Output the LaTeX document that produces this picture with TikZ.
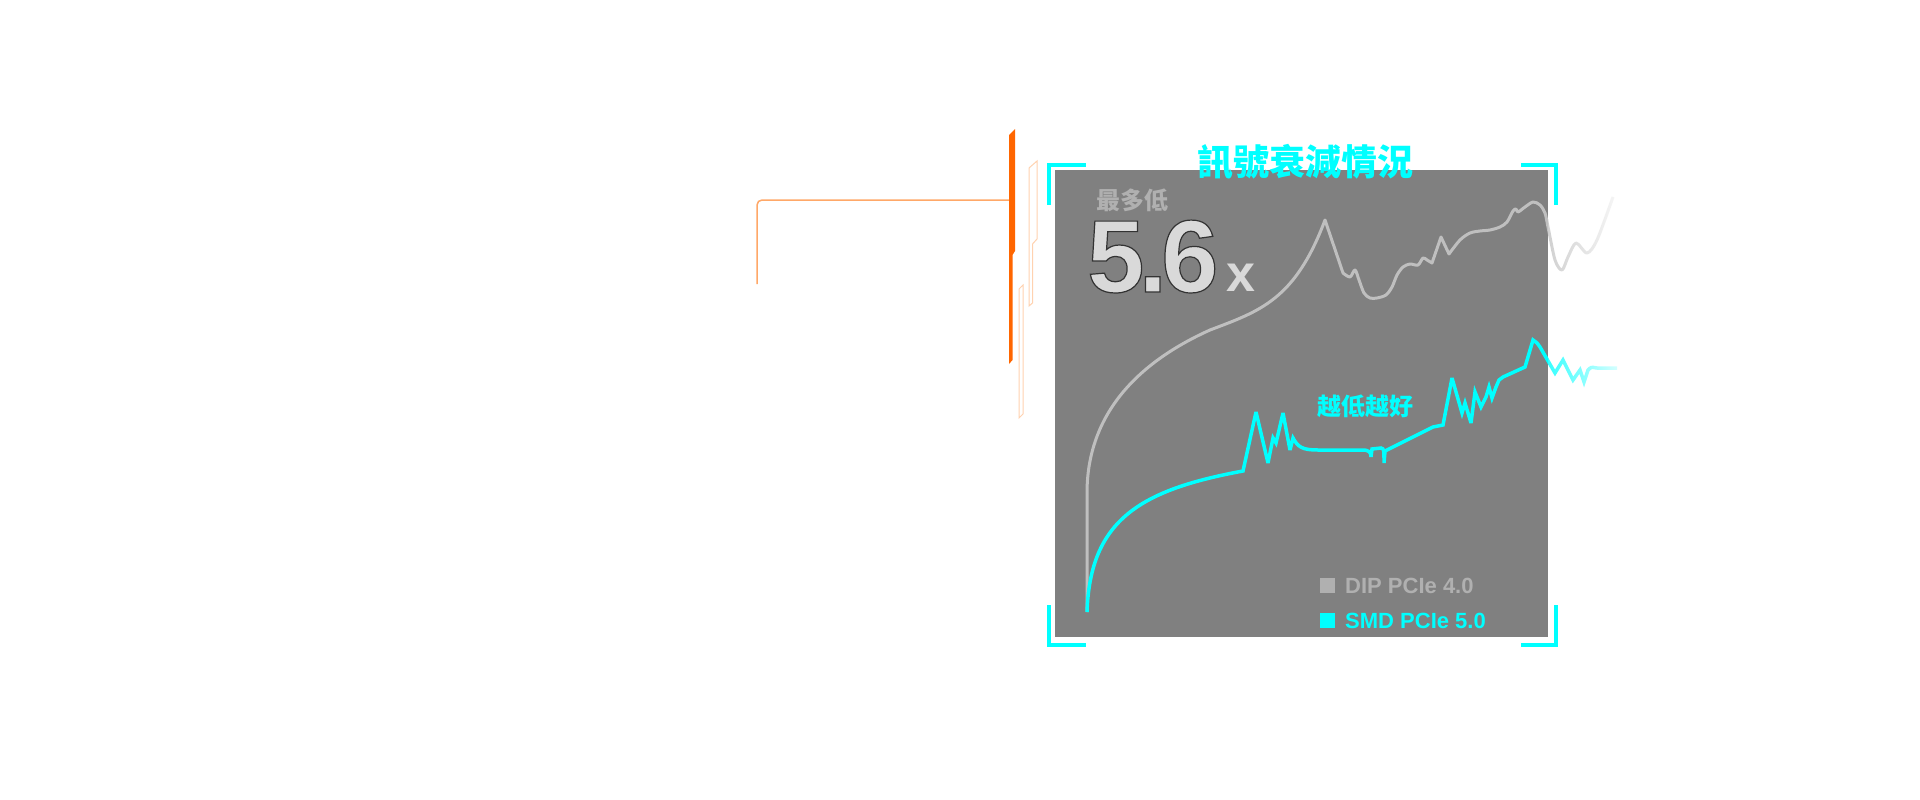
\documentclass[tikz,border=0pt]{standalone}
\usepackage{fontspec}
\setmainfont{Liberation Sans}
\newfontfamily\cjk{Noto Sans CJK TC}
\usetikzlibrary{fadings}

\definecolor{panelgray}{HTML}{808080}
\definecolor{dipgray}{HTML}{BFBFBF}
\definecolor{keygray}{HTML}{B0B0B0}
\definecolor{smdcyan}{HTML}{00FFFF}
\definecolor{barorange}{HTML}{FF6600}
\definecolor{lineorange}{HTML}{FFA868}
\definecolor{peach}{HTML}{FFD2B0}
\definecolor{ratiofill}{HTML}{D9D9D9}

\tikzfading[name=tailfade, left color=transparent!0, right color=transparent!85]

\tikzset{
    dipcurve/.style={draw=dipgray, line width=3, line join=round},
    smdcurve/.style={draw=smdcyan, line width=3.5, line join=miter, miter limit=4},
    bracket/.style={draw=smdcyan, line width=4},
    legendbox/.style={minimum size=15, inner sep=0},
    peachbar/.style={draw=peach, line width=1},
}

\begin{document}
\begin{tikzpicture}[x=1pt, y=-1pt]
    \useasboundingbox[fill=white] (0,0) rectangle (1920,800);

    % panel
    \fill[panelgray] (1055,170) rectangle (1548,637);

    % graphs
    \begin{scope}
        \clip (1055,170) rectangle (1548,637);
        \draw[dipcurve] (1087,612) -- (1087,493)
            .. controls (1087,440) and (1110,375) .. (1210,330)
            .. controls (1260,311) and (1295,300) .. (1325,220)
            -- (1343,273)
            -- plot[smooth, tension=0.5] coordinates {(1343,273) (1350,277) (1355,270) (1359,280)
                (1364,293) (1370,298) (1377,298) (1386,295) (1392,287) (1397,275) (1403,267)
                (1410,264) (1418,265) (1423,258) (1427,260) (1432,263)}
            -- (1441,237) -- (1449,254)
            -- plot[smooth, tension=0.5] coordinates {(1449,254) (1460,240) (1470,233) (1480,231)
                (1490,230) (1500,227) (1507,222) (1513,211) (1516,209) (1518,212) (1525,207)
                (1533,202) (1540,205) (1545,213) (1548,227) (1555,260) (1562,270)};
        \draw[smdcurve] (1087,612) .. controls (1090,520) and (1140,490) .. (1243,471)
            -- (1256,412) -- (1268,463) -- (1273,438) -- (1276,443) -- (1283,413)
            -- (1290,450) -- (1293,438) .. controls (1298,447) and (1302,450) .. (1318,450)
            -- (1362,450) .. controls (1369,450) and (1371,452) .. (1371,457)
            -- (1372,449) -- (1381,448) .. controls (1384,449) .. (1384,463)
            -- (1385,451) -- (1433,427) -- (1443,425) -- (1452,378) -- (1462,413)
            -- (1465,403) -- (1471,423) -- (1475,392) -- (1481,407) -- (1486,397)
            -- (1489,387) -- (1492,398) -- (1496,387) -- (1499,380) -- (1503,377)
            -- (1525,367) -- (1533,340) -- (1537,343) -- (1540,347) -- (1555,373);
    \end{scope}

    % faded tails
    \begin{scope}
        \clip (1548,150) rectangle (1660,420);
        \draw[dipcurve, path fading=tailfade] plot[smooth, tension=0.5] coordinates {(1516,209)
            (1518,212) (1525,207) (1533,202) (1540,205) (1545,213) (1548,227) (1555,260)
            (1562,270) (1568,257) (1576,243) (1587,253) (1597,240) (1613,197)};
        \draw[smdcurve, path fading=tailfade] (1525,367) -- (1533,340) -- (1537,343)
            -- (1540,347) -- (1555,373) -- (1563,360) -- (1573,380) -- (1580,370)
            -- (1584,382) -- (1588,370) .. controls (1591,367) .. (1597,368) -- (1617,368);
    \end{scope}

    % corner brackets
    \draw[bracket] (1049,205) |- (1086,165);
    \draw[bracket] (1521,165) -| (1556,205);
    \draw[bracket] (1049,605) |- (1086,645);
    \draw[bracket] (1521,645) -| (1556,605);

    % orange marks
    \coordinate (lineend) at (757,284);
    \coordinate (barjoint) at (1009,200);
    \draw[lineorange, line width=1.5, rounded corners=5] (lineend) |- (barjoint);
    \fill[barorange] (1009,135) -- (1015,129) -- (1015,251) -- (1012.5,255)
        -- (1012.5,360) -- (1009,364) -- cycle;
    \draw[peachbar] (1029,168) -- (1037,161) -- (1037,239) -- (1032.5,244)
        -- (1032.5,303) -- (1029,306) -- cycle;
    \draw[peachbar] (1019,289) -- (1023,285) -- (1023,414) -- (1019,418) -- cycle;

    % labels
    \node[font=\cjk\bfseries\fontsize{36}{40}\selectfont, text=smdcyan, inner sep=0]
        (title) at (1305,162) {訊號衰減情況};
    \node[font=\cjk\bfseries\fontsize{24}{28}\selectfont, text=keygray, inner sep=0]
        (maxlabel) at (1132,200) {最多低};
    \node[font=\cjk\bfseries\fontsize{24}{28}\selectfont, text=smdcyan, inner sep=0]
        (hint) at (1365,406) {越低越好};
    \node[font=\bfseries\fontsize{52}{56}\selectfont, text=ratiofill, inner sep=0, anchor=base west]
        (xunit) at (1226,291) {x};

    % legend
    \node[legendbox, fill=keygray] (dipkey) at (1327.5,585.5) {};
    \node[legendbox, fill=smdcyan] (smdkey) at (1327.5,620.5) {};
    \node[font=\bfseries\fontsize{22}{26}\selectfont, text=keygray, inner sep=0, anchor=base west]
        (diptext) at (1345,593) {DIP PCIe 4.0};
    \node[font=\bfseries\fontsize{22}{26}\selectfont, text=smdcyan, inner sep=0, anchor=base west]
        (smdtext) at (1345,628) {SMD PCIe 5.0};

    % big ratio, outlined
    \node[font=\bfseries\fontsize{103}{110}\selectfont, text=ratiofill, inner sep=0, anchor=base west]
        (ratio) at (1087,292) {\special{pdf:literal direct 2 Tr 1.2 w 0.2 0.2 0.2 RG}5\kern-6pt.\kern-6pt6\special{pdf:literal direct 0 Tr}};
\end{tikzpicture}
\end{document}
